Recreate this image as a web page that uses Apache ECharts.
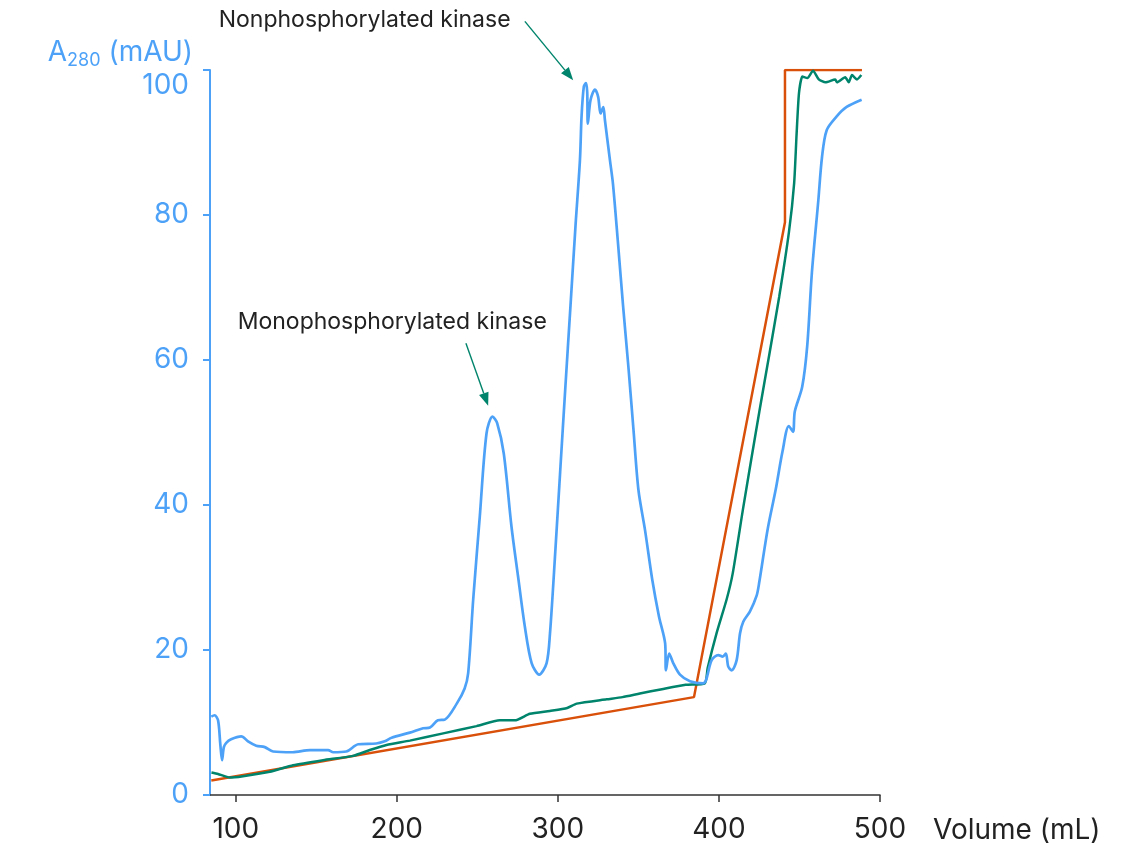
<!DOCTYPE html>
<html>
<head>
<meta charset="utf-8">
<script src="https://cdn.jsdelivr.net/npm/echarts@6/dist/echarts.min.js"></script>
<style>
html,body{margin:0;padding:0;background:#fff;}
#chart{width:1147px;height:847px;}
</style>
</head>
<body>
<div id="chart"></div>
<script>
// ---- data ----
const xTicks = [100, 200, 300, 400, 500];
const yTicks = [0, 20, 40, 60, 80, 100];

const a280X = [84.8,86.8,89.0,90.4,91.5,92.6,94.1,97.1,103.4,107.6,112.7,118.0,123.2,135.3,146.1,157.3,160.5,168.6,176.0,187.2,192.5,196.7,208.1,216.3,220.6,225.5,229.8,237.2,242.1,244.3,247.4,251.5,255.7,259.4,262.3,266.4,271.2,275.3,279.5,283.7,288.4,293.0,295.1,298.4,301.5,304.6,307.8,311.0,313.7,314.7,316.1,317.4,318.2,318.6,320.3,323.0,325.0,326.5,328.2,329.2,332.3,334.2,337.4,340.5,343.8,346.9,350.0,354.2,358.6,362.8,366.6,367.1,369.1,371.6,375.8,382.0,390.2,395.5,399.6,402.3,404.3,405.8,407.9,411.0,413.1,415.1,419.2,423.4,425.0,430.2,435.3,439.4,443.4,446.0,447.1,451.7,454.8,457.7,461.7,464.0,466.9,473.1,479.3,488.6];
const a280Y = [10.8,11.0,10.3,7.0,4.8,6.6,7.2,7.7,8.1,7.4,6.8,6.6,6.0,5.9,6.2,6.2,5.9,6.0,7.0,7.1,7.4,7.9,8.6,9.2,9.3,10.3,10.4,12.6,14.7,16.8,26.9,38.4,49.9,52.2,51.3,47.1,37.0,30.1,23.2,18.2,16.6,18.2,22.3,33.6,44.9,56.1,67.4,78.7,87.6,93.6,97.7,98.2,97.0,92.6,95.9,97.3,96.3,94.0,94.9,93.1,87.6,84.3,75.9,67.4,59.0,50.5,42.1,36.4,29.7,24.6,20.9,17.2,19.5,18.2,16.6,15.7,15.4,18.6,19.3,19.1,19.5,17.7,17.2,18.6,22.3,23.9,25.3,27.5,29.3,36.6,42.2,47.3,50.9,50.1,52.9,56.3,61.9,72,82,88,91.7,93.6,94.9,95.9];

const condX = [84.9,89.0,96.3,104.5,121.1,135.6,154.2,172.8,183.2,193.6,208.1,228.8,249.5,264.0,273.3,282.6,295.0,305.8,311.7,330.3,340.1,350.9,364.6,379.3,391.2,393.0,398.5,404.8,408.5,414.9,420.0,425.1,431.3,437.4,443.5,446.7,448.2,449.7,451.8,454.9,458.4,462.0,466.1,472.2,473.3,478.4,480.6,482.6,485.7,488.4];
const condY = [3.1,2.9,2.4,2.6,3.2,4.1,4.8,5.4,6.2,6.9,7.5,8.5,9.5,10.3,10.3,11.2,11.6,12.0,12.6,13.2,13.5,14.0,14.6,15.2,15.4,17.5,22.3,27.0,30.5,39.4,46.2,52.9,60.8,68.7,77.7,84.4,91.1,96.8,99.1,98.9,99.9,98.7,98.3,98.7,98.3,99.0,98.3,99.3,98.7,99.3];

const concX = [84.8, 384.5, 441.0, 441.0, 488.8];
const concY = [2.0, 13.5, 79.0, 100, 100];

// annotations: label, text anchor, arrow start and arrow tip, in data units
const annoLabels = ['Nonphosphorylated kinase', 'Monophosphorylated kinase'];
const annoTextAt = [[89.4, 106.9], [101.2, 65.2]];
const annoFrom = [[279.5, 106.7], [242.9, 62.3]];
const annoTo = [[309.5, 98.6], [256.7, 53.7]];

// ---- chart ----
const zip = (xs, ys) => xs.map((x, i) => [x, ys[i]]);
const BLUE = '#4da2f8', GREEN = '#00846b', ORANGE = '#d9500a', DARK = '#222222';
const FONT = 'Inter';

const chart = echarts.init(document.getElementById('chart'), null, {renderer: 'canvas'});
chart.setOption({
  animation: false,
  backgroundColor: '#fff',
  textStyle: {fontFamily: FONT},
  grid: {left: 210, right: 267, top: 70, bottom: 52, containLabel: false},
  xAxis: {
    type: 'value', min: 84, max: 500,
    name: 'Volume (mL)', nameLocation: 'end', nameGap: 53,
    nameTextStyle: {color: DARK, fontSize: 28, fontFamily: FONT, align: 'left', verticalAlign: 'top', padding: [22, 0, 0, 0]},
    axisLine: {show: true, onZero: false, lineStyle: {color: '#333', width: 1.5}},
    axisTick: {show: true, length: 7, lineStyle: {color: '#333', width: 1.5}, customValues: xTicks},
    axisLabel: {color: DARK, fontSize: 28, fontFamily: FONT, margin: 21, customValues: xTicks},
    splitLine: {show: false}
  },
  yAxis: {
    type: 'value', min: 0, max: 100, interval: 20,
    name: '{a|A}{s|280}{a| (mAU)}', nameLocation: 'end', nameGap: 17,
    nameTextStyle: {
      align: 'right', verticalAlign: 'middle', padding: [0, 17, 0, 0],
      rich: {
        a: {color: BLUE, fontSize: 28, fontFamily: FONT, lineHeight: 34},
        s: {color: BLUE, fontSize: 18, fontFamily: FONT, lineHeight: 14, verticalAlign: 'bottom'}
      }
    },
    axisLine: {show: true, lineStyle: {color: BLUE, width: 2}},
    axisTick: {show: true, length: 7, lineStyle: {color: BLUE, width: 2}},
    axisLabel: {
      color: BLUE, fontSize: 28, fontFamily: FONT, margin: 21,
      formatter: v => v === 100 ? '{top|100}' : String(v),
      rich: {top: {color: BLUE, fontSize: 28, fontFamily: FONT, padding: [32, 0, 0, 0]}}
    },
    splitLine: {show: false}
  },
  series: [
    {name: 'Concentration', type: 'line', data: zip(concX, concY), showSymbol: false, symbol: 'none',
     lineStyle: {color: ORANGE, width: 2.5}, z: 2},
    {name: 'Conductivity', type: 'line', data: zip(condX, condY), showSymbol: false, symbol: 'none', smooth: 0.2,
     lineStyle: {color: GREEN, width: 2.5}, z: 3},
    {name: 'A280', type: 'line', data: zip(a280X, a280Y), showSymbol: false, symbol: 'none', smooth: 0.3,
     lineStyle: {color: BLUE, width: 2.7}, z: 4}
  ]
});

// annotation graphics placed through the chart's own coordinate conversion
function drawAnnotations() {
  const els = [];
  annoLabels.forEach((label, i) => {
    const t = chart.convertToPixel({xAxisIndex: 0, yAxisIndex: 0}, annoTextAt[i]);
    const p0 = chart.convertToPixel({xAxisIndex: 0, yAxisIndex: 0}, annoFrom[i]);
    const p1 = chart.convertToPixel({xAxisIndex: 0, yAxisIndex: 0}, annoTo[i]);
    els.push({type: 'text', x: t[0], y: t[1], style: {text: label, fill: DARK, font: '23px Inter', textAlign: 'left', textVerticalAlign: 'middle'}});
    const dx = p1[0] - p0[0], dy = p1[1] - p0[1];
    const len = Math.hypot(dx, dy), ux = dx / len, uy = dy / len;
    const hl = 13, hw = 5;
    const bx = p1[0] - ux * hl, by = p1[1] - uy * hl;
    els.push({type: 'line', shape: {x1: p0[0], y1: p0[1], x2: bx, y2: by}, style: {stroke: GREEN, lineWidth: 1.4}});
    els.push({type: 'polygon', shape: {points: [[p1[0], p1[1]], [bx - uy * hw, by + ux * hw], [bx + uy * hw, by - ux * hw]]}, style: {fill: GREEN}});
  });
  chart.setOption({graphic: {elements: els}});
}
drawAnnotations();
</script>
</body>
</html>
